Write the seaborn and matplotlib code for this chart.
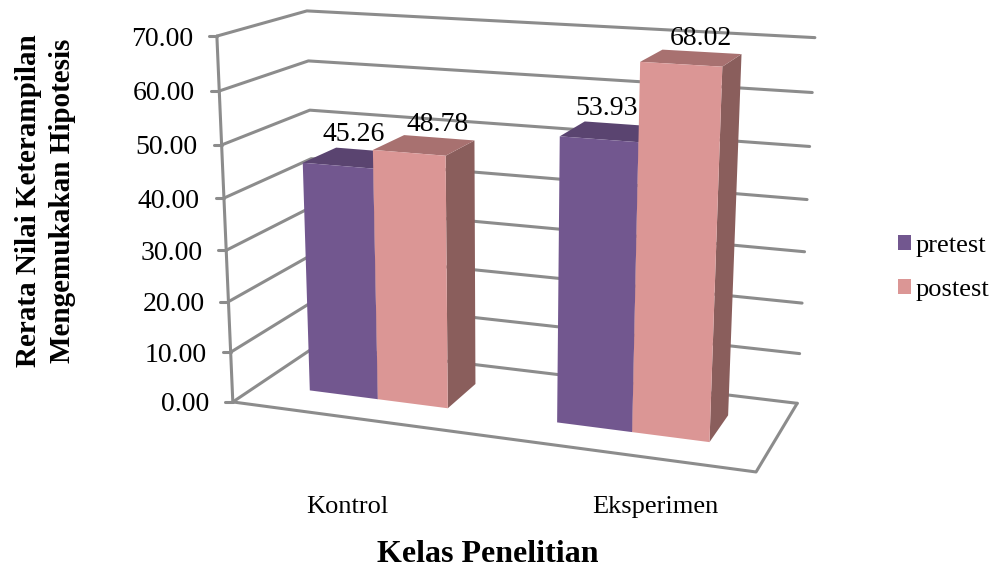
import numpy as np
import pandas as pd
import matplotlib
matplotlib.use('Agg')
import matplotlib.pyplot as plt
from matplotlib.patches import Polygon
from matplotlib.transforms import Transform, IdentityTransform
import seaborn as sns

categories = ["Kontrol", "Eksperimen"]
pretest = [45.26, 53.93]
postest = [48.78, 68.02]
ticks = [0, 10, 20, 30, 40, 50, 60, 70]

W, H = 994, 570
FRONT, BACK = 0.3, 0.7  # bar depth inside the floor
GRID = '#8C8C8C'
TOPS = ['#5A4470', '#A87170']
SIDES = ['#5E4878', '#8A5E5C']
CAT_LABEL_X = [347, 655]
VAL_LABEL_OFF = [(-16, 16), (-1, 13)]  # px, per series

# camera: floor/wall corners in the picture, (cat x, depth, value) -> pixel
calib = [
    (-.5, 0, 0, 233, 402), (-.5, 0, 70, 216, 36), (-.5, 1, 70, 308, 11),
    (1.5, 1, 70, 815, 38), (1.5, 1, 0, 797, 403), (1.5, 0, 0, 756, 472),
    (-.5, 1, 60, 308, 61), (-.5, 1, 50, 309, 110), (-.5, 0, 60, 220, 91),
    (1.5, 1, 60, 812, 92), (1.5, 1, 10, 800, 354),
]
A, b = [], []
for x, y, z, u, v in calib:
    A.append([x, y, z, 1, 0, 0, 0, 0, -u * x, -u * y, -u * z])
    A.append([0, 0, 0, 0, x, y, z, 1, -v * x, -v * y, -v * z])
    b += [u, v]
cam = np.append(np.linalg.lstsq(np.array(A, float), np.array(b, float), rcond=None)[0], 1).reshape(3, 4)


def project(x, y, z):
    p = cam @ np.array([x, y, z, 1.0])
    return p[0] / p[2], H - p[1] / p[2]


class FrontFace(Transform):
    # (category x, value) at a fixed depth -> display pixels
    input_dims = output_dims = 2

    def __init__(self, bar_depth):
        super().__init__()
        self.bar_depth = bar_depth

    def transform_non_affine(self, values):
        return np.array([project(x, self.bar_depth, z) for x, z in values])


sns.set_theme(style='white', rc={'text.color': 'black'})
plt.rcParams['font.family'] = ['Liberation Serif', 'DejaVu Serif']

df = pd.DataFrame({
    'kelas': categories * 2,
    'nilai': pretest + postest,
    'tes': ['pretest'] * 2 + ['postest'] * 2,
})

fig = plt.figure(figsize=(W / 100, H / 100), dpi=100)
ax = fig.add_axes([0, 0, 1, 1])
sns.barplot(data=df, x='kelas', y='nilai', hue='tes', width=0.57, saturation=1,
            palette=['#72578F', '#DB9695'], linewidth=0, edgecolor='none', ax=ax)
ax.axis('off')


def wall_line(pts, **kw):
    xy = [project(*p) for p in pts]
    ax.plot(*zip(*xy), transform=IdentityTransform(), color=GRID, lw=2.2,
            clip_on=False, zorder=1, solid_capstyle='round', **kw)


# walls and floor
for t in ticks:
    wall_line([(-.5, 0, t), (-.5, 1, t), (1.5, 1, t)])
    u, v = project(-.5, 0, t)
    ax.plot([u - 8, u], [v, v], transform=IdentityTransform(), color=GRID, lw=2.2, clip_on=False, zorder=1)
    ax.text(u - 24, v - 3, f'{t:.2f}', transform=IdentityTransform(), ha='right', va='center', fontsize=20, color='black')
wall_line([(-.5, 0, 0), (-.5, 0, 70)])
wall_line([(-.5, 0, 0), (1.5, 0, 0), (1.5, 1, 0)])

# bars: front faces come from seaborn, the rest is extruded from them
for i, cont in enumerate(ax.containers):
    for j, bar in enumerate(cont):
        x0, x1 = bar.get_x(), bar.get_x() + bar.get_width()
        val = bar.get_height()
        zo = 3 + 2 * i
        bar.set_transform(FrontFace(FRONT))
        bar.set_clip_on(False)
        bar.set_zorder(zo + 1)
        top = [project(x0, FRONT, val), project(x1, FRONT, val), project(x1, BACK, val), project(x0, BACK, val)]
        side = [project(x1, FRONT, 0), project(x1, BACK, 0), project(x1, BACK, val), project(x1, FRONT, val)]
        for pts, col in ((side, SIDES[i]), (top, TOPS[i])):
            ax.add_patch(Polygon(pts, closed=True, transform=IdentityTransform(), facecolor=col,
                                 edgecolor='none', clip_on=False, zorder=zo))
        u, v = project((x0 + x1) / 2, BACK, val)
        dx, dy = VAL_LABEL_OFF[i]
        ax.text(u + dx, v + dy, f'{val:.2f}', transform=IdentityTransform(), ha='center', va='center',
                fontsize=20, color='black', zorder=20)

for c, name in enumerate(categories):
    ax.text(CAT_LABEL_X[c], H - 507, name, transform=IdentityTransform(), ha='center', va='center', fontsize=19, color='black')

sns.move_legend(ax, 'center left', bbox_to_anchor=(898 / W, 1 - 268 / H), frameon=False, title=None,
                fontsize=19, handlelength=0.5, handleheight=0.5, handletextpad=0.15, labelspacing=0.85,
                borderpad=0, borderaxespad=0)

fig.text(488 / W, 1 - 555 / H, 'Kelas Penelitian', ha='center', va='center', fontsize=23, fontweight='bold', color='black')
fig.text(45.5 / W, 1 - 201 / H, 'Rerata Nilai Keterampilan\nMengemukakan Hipotesis', rotation=90, ha='center', va='center',
         fontsize=21, fontweight='bold', color='black', linespacing=1.35, multialignment='center')

fig.savefig('out.png', dpi=100, facecolor='white')
